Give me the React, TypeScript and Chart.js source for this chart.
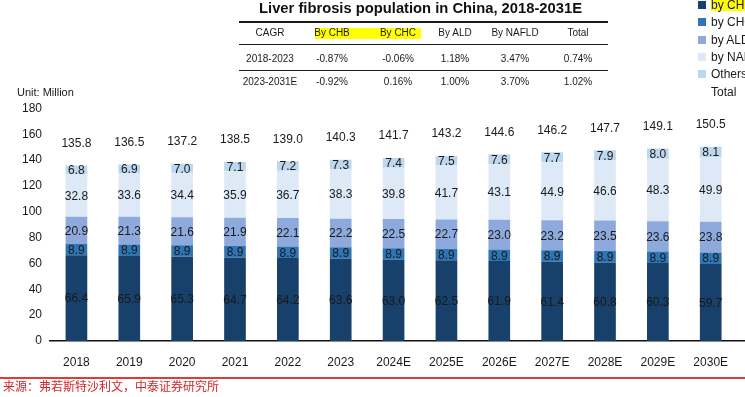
import React, { useEffect, useRef } from "react";
import { Chart, registerables } from "chart.js";

Chart.register(...registerables);

const categories = ["2018", "2019", "2020", "2021", "2022", "2023", "2024E", "2025E", "2026E", "2027E", "2028E", "2029E", "2030E", "2031E"];
const chb = [66.4, 65.9, 65.3, 64.7, 64.2, 63.6, 63.0, 62.5, 61.9, 61.4, 60.8, 60.3, 59.7, 59.1];
const chc = [8.9, 8.9, 8.9, 8.9, 8.9, 8.9, 8.9, 8.9, 8.9, 8.9, 8.9, 8.9, 8.9, 9.0];
const ald = [20.9, 21.3, 21.6, 21.9, 22.1, 22.2, 22.5, 22.7, 23.0, 23.2, 23.5, 23.6, 23.8, 24.0];
const nafld = [32.8, 33.6, 34.4, 35.9, 36.7, 38.3, 39.8, 41.7, 43.1, 44.9, 46.6, 48.3, 49.9, 51.7];
const others = [6.8, 6.9, 7.0, 7.1, 7.2, 7.3, 7.4, 7.5, 7.6, 7.7, 7.9, 8.0, 8.1, 8.2];
const totals = [135.8, 136.5, 137.2, 138.5, 139.0, 140.3, 141.7, 143.2, 144.6, 146.2, 147.7, 149.1, 150.5, 152.0];
const yTicks = [0, 20, 40, 60, 80, 100, 120, 140, 160, 180];

const seriesLabels = ["by CHB", "by CHC", "by ALD", "by NAFLD", "Others"];
const seriesColors = ["#17406b", "#2e75b6", "#8eaadc", "#dde9f6", "#bdd7ee"];

const cagrHeader = ["CAGR", "By CHB", "By CHC", "By ALD", "By NAFLD", "Total"];
const cagrRow1 = ["2018-2023", "-0.87%", "-0.06%", "1.18%", "3.47%", "0.74%"];
const cagrRow2 = ["2023-2031E", "-0.92%", "0.16%", "1.00%", "3.70%", "1.02%"];

const titleText = "Liver fibrosis population in China, 2018-2031E";
const unitText = "Unit: Million";
const sourceText = "来源：弗若斯特沙利文，中泰证券研究所";

const FONT = "'Liberation Sans', Arial, sans-serif";
const TEXT = "#1a1a1a";

const colX = [270, 332, 398, 455, 515, 578];
const rowY = [33, 58.5, 82];
const legendY = [5, 22, 40, 57, 74, 92];

const labelPlugin = {
  id: "valueLabels",
  afterDatasetsDraw(chart: any) {
    const ctx = chart.ctx;
    ctx.save();
    ctx.font = `12px ${FONT}`;
    ctx.fillStyle = TEXT;
    ctx.textAlign = "center";
    ctx.textBaseline = "middle";
    chart.data.datasets.forEach((ds: any, di: number) => {
      const meta = chart.getDatasetMeta(di);
      meta.data.forEach((bar: any, i: number) => {
        const v = ds.data[i];
        const y = (bar.y + bar.base) / 2;
        ctx.fillText(v.toFixed(1), bar.x, y + 1);
      });
    });
    const topMeta = chart.getDatasetMeta(chart.data.datasets.length - 1);
    topMeta.data.forEach((bar: any, i: number) => {
      ctx.fillText(totals[i].toFixed(1), bar.x, bar.y - 22);
    });
    ctx.restore();
  },
};

function ChartCanvas() {
  const ref = useRef<HTMLCanvasElement | null>(null);
  useEffect(() => {
    if (!ref.current) return;
    const data = [chb, chc, ald, nafld, others];
    const chart = new Chart(ref.current, {
      type: "bar",
      data: {
        labels: categories,
        datasets: data.map((d, i) => ({
          label: seriesLabels[i],
          data: d,
          backgroundColor: seriesColors[i],
          borderWidth: 0,
          barPercentage: 0.41,
          categoryPercentage: 1,
        })),
      },
      options: {
        responsive: false,
        animation: false,
        devicePixelRatio: 1,
        layout: { padding: { top: 108.5, right: 10, left: 0, bottom: 0 } },
        plugins: {
          legend: { display: false },
          tooltip: { enabled: false },
          title: { display: false },
        },
        scales: {
          x: {
            stacked: true,
            grid: { display: false, drawTicks: false },
            border: { display: true, color: "#111111", width: 1.5 },
            ticks: {
              padding: 14,
              autoSkip: false,
              maxRotation: 0,
              font: { family: FONT, size: 12 },
              color: (c: any) => (c.index === 13 ? "#d9a560" : TEXT),
            },
            afterFit: (s: any) => {
              s.height = 56;
            },
          },
          y: {
            stacked: true,
            min: 0,
            max: 180,
            grid: { display: false, drawTicks: false },
            border: { display: false },
            ticks: { padding: 8, font: { family: FONT, size: 12 }, color: TEXT },
            afterBuildTicks: (s: any) => {
              s.ticks = yTicks.map((v) => ({ value: v }));
            },
            afterFit: (s: any) => {
              s.width = 50;
            },
          },
        },
      },
      plugins: [labelPlugin],
    });
    return () => chart.destroy();
  }, []);
  return <canvas ref={ref} width={800} height={397} style={{ position: "absolute", left: 0, top: 0, width: 800, height: 397 }} />;
}

const abs = (x: number, y: number, extra: React.CSSProperties = {}): React.CSSProperties => ({
  position: "absolute",
  left: x,
  top: y,
  whiteSpace: "nowrap",
  ...extra,
});

export default function App() {
  const cell = (t: string, x: number, y: number, key: string) => (
    <div key={key} style={abs(x, y, { transform: "translate(-50%, -50%)", font: `10px ${FONT}`, color: TEXT, lineHeight: "12px" })}>
      {t}
    </div>
  );
  return (
    <div style={{ position: "fixed", left: 0, top: 0, width: 745, height: 397, overflow: "hidden", background: "#ffffff" }}>
      <ChartCanvas />
      <div style={abs(420.5, 8, { transform: "translate(-50%, -50%)", font: `bold 14.75px ${FONT}`, color: "#111", lineHeight: "17px" })}>{titleText}</div>
      <div style={abs(239, 21, { width: 369, height: 2, background: "#1a1a1a" })} />
      <div style={abs(239, 43.5, { width: 369, height: 1.5, background: "#1a1a1a" })} />
      <div style={abs(239, 69.5, { width: 369, height: 1.5, background: "#1a1a1a" })} />
      <div style={abs(315, 28, { width: 106, height: 11, background: "#ffff00" })} />
      {cagrHeader.map((t, i) => cell(t, colX[i], rowY[0], "h" + i))}
      {cagrRow1.map((t, i) => cell(t, colX[i], rowY[1], "a" + i))}
      {cagrRow2.map((t, i) => cell(t, colX[i], rowY[2], "b" + i))}
      <div style={abs(711, -1, { width: 40, height: 12, background: "#ffff00" })} />
      {seriesLabels.map((t, i) => (
        <React.Fragment key={"l" + i}>
          <div style={abs(698, legendY[i] - 4, { width: 8, height: 8, background: seriesColors[i] })} />
          <div style={abs(711, legendY[i], { transform: "translateY(-50%)", font: `12px ${FONT}`, color: TEXT, lineHeight: "14px" })}>{t}</div>
        </React.Fragment>
      ))}
      <div style={abs(711, legendY[5], { transform: "translateY(-50%)", font: `12px ${FONT}`, color: TEXT, lineHeight: "14px" })}>Total</div>
      <div style={abs(17, 92, { transform: "translateY(-50%)", font: `11px ${FONT}`, color: TEXT, lineHeight: "13px" })}>{unitText}</div>
      <div style={abs(0, 377, { width: 745, height: 1.5, background: "#e03a3a" })} />
      <div style={abs(3, 386, { transform: "translateY(-50%)", font: `12px 'Noto Sans CJK SC', sans-serif`, color: "#d02828", lineHeight: "14px" })}>{sourceText}</div>
    </div>
  );
}
